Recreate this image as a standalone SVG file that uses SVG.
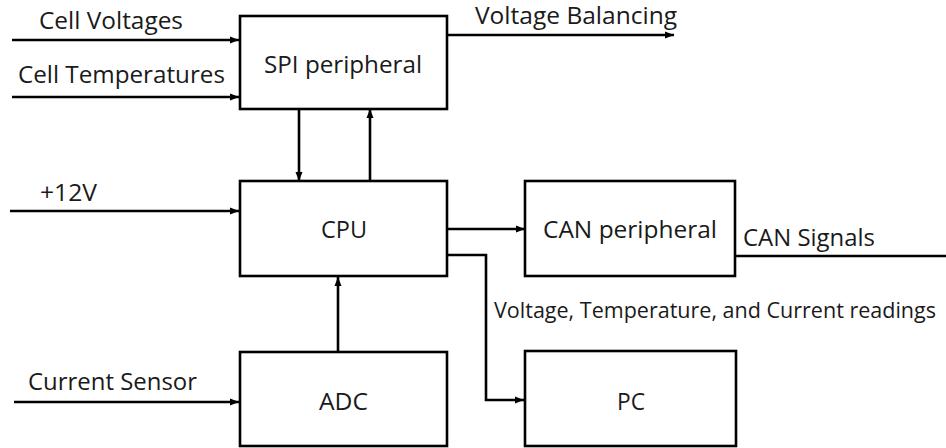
<svg xmlns="http://www.w3.org/2000/svg" width="946" height="448" viewBox="0 0 946 448">
<defs>
<marker id="ah" markerUnits="userSpaceOnUse" markerWidth="10" markerHeight="10" viewBox="0 0 10 10" refX="9" refY="5" orient="auto">
<path d="M0,1.5 L9,5 L0,8.5 Z" fill="#000"/>
</marker>
<style>
.box{fill:#fff;stroke:#000;stroke-width:2.6}
.ln{fill:none;stroke:#000;stroke-width:2.6}
.ar{marker-end:url(#ah)}
text{font-family:"Open Sans","Liberation Sans",sans-serif;font-size:23px;fill:#1a1a1a}
.sm{font-size:21.5px}
</style>
</defs>
<rect width="946" height="448" fill="#fff"/>
<g id="connectors">
<line class="ln ar" x1="12" y1="40" x2="239" y2="40"/>
<line class="ln ar" x1="12" y1="97" x2="239" y2="97"/>
<line class="ln ar" x1="447" y1="35" x2="674" y2="35"/>
<line class="ln ar" x1="299" y1="109" x2="299" y2="181"/>
<line class="ln ar" x1="370" y1="181" x2="370" y2="109"/>
<line class="ln ar" x1="10" y1="211" x2="239" y2="211"/>
<line class="ln ar" x1="447" y1="229" x2="525" y2="229"/>
<line class="ln" x1="735" y1="256" x2="946" y2="256"/>
<polyline class="ln ar" points="447,255 486,255 486,400 524,400"/>
<line class="ln ar" x1="338" y1="352" x2="338" y2="277"/>
<line class="ln ar" x1="14" y1="402" x2="239" y2="402"/>
<text x="39" y="29" textLength="144" lengthAdjust="spacingAndGlyphs">Cell Voltages</text>
<text x="18" y="83" textLength="207" lengthAdjust="spacingAndGlyphs">Cell Temperatures</text>
<text x="475" y="24" textLength="202" lengthAdjust="spacingAndGlyphs">Voltage Balancing</text>
<text x="40" y="201" textLength="57" lengthAdjust="spacingAndGlyphs">+12V</text>
<text x="743" y="246" textLength="132" lengthAdjust="spacingAndGlyphs">CAN Signals</text>
<text class="sm" x="494" y="318" textLength="442" lengthAdjust="spacingAndGlyphs">Voltage, Temperature, and Current readings</text>
<text x="28" y="390" textLength="169" lengthAdjust="spacingAndGlyphs">Current Sensor</text>
</g>
<g id="spi">
<rect class="box" x="240" y="16" width="207" height="93"/>
<text x="264" y="73" textLength="158" lengthAdjust="spacingAndGlyphs">SPI peripheral</text>
</g>
<g id="cpu">
<rect class="box" x="240" y="181" width="207" height="95"/>
<text x="321" y="238" textLength="46" lengthAdjust="spacingAndGlyphs">CPU</text>
</g>
<g id="can">
<rect class="box" x="525" y="181" width="210" height="95"/>
<text x="543" y="238" textLength="174" lengthAdjust="spacingAndGlyphs">CAN peripheral</text>
</g>
<g id="adc">
<rect class="box" x="240" y="352" width="207" height="94"/>
<text x="319" y="410" textLength="49" lengthAdjust="spacingAndGlyphs">ADC</text>
</g>
<g id="pc">
<rect class="box" x="525" y="351" width="211" height="95"/>
<text x="617" y="410" textLength="28" lengthAdjust="spacingAndGlyphs">PC</text>
</g>
</svg>
